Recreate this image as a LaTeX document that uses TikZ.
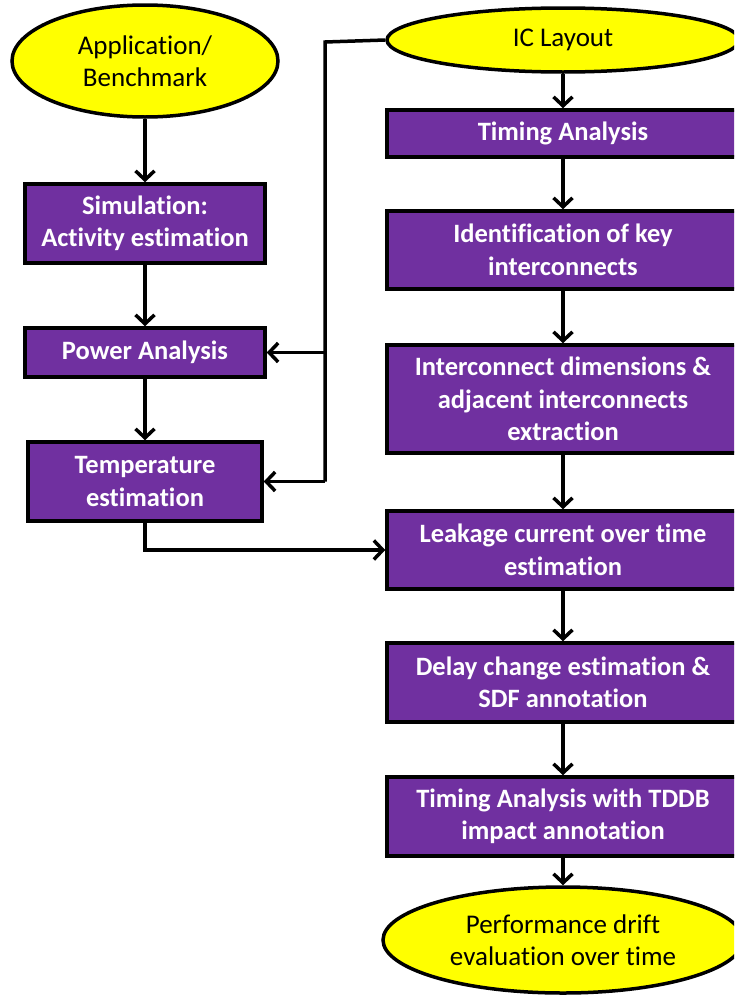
\documentclass[tikz,border=0pt]{standalone}
\usepackage{fontspec}
\setmainfont{Carlito}[Ligatures={NoCommon}]
\usetikzlibrary{arrows.meta,shapes.geometric}
\definecolor{boxpurple}{RGB}{112,48,160}
\definecolor{termyellow}{RGB}{255,255,0}
\tikzset{
  stepbox/.style={draw=black, line width=3.5pt, fill=boxpurple, text=white,
    font=\bfseries\fontsize{26.5}{32.5}\selectfont, align=center, inner sep=0pt,
    rectangle},
  terminal/.style={draw=black, line width=3.5pt, fill=termyellow, text=black,
    font=\fontsize{27}{32.5}\selectfont, align=center, inner sep=0pt,
    ellipse},
  link/.style={draw=black, line width=3.5pt, -{Straight Barb[length=9pt,width=19pt]}},
  wire/.style={draw=black, line width=3.5pt},
}
\begin{document}
\begin{tikzpicture}[x=1pt, y=-1pt]
\useasboundingbox (0,0) rectangle (734,996);
\clip (0,0) rectangle (734,996);

% left column
\node[terminal, minimum width=266pt, minimum height=112pt] (app) at (145,61) {Application/\\Benchmark};
\node[stepbox, minimum width=240pt, minimum height=79pt] (sim) at (145,223.5) {Simulation:\\Activity estimation};
\node[stepbox, minimum width=240pt, minimum height=49pt] (power) at (145,352.5) {Power Analysis};
\node[stepbox, minimum width=234pt, minimum height=79pt] (temp) at (145,481.5) {Temperature\\estimation};

% right column
\node[terminal, minimum width=352pt, minimum height=64pt] (ic) at (563,40) {IC Layout};
\node[stepbox, minimum width=352pt, minimum height=47pt] (timing) at (563,133.5) {Timing Analysis};
\node[stepbox, minimum width=352pt, minimum height=78pt] (ident) at (563,250) {Identification of key\\interconnects};
\node[stepbox, minimum width=352pt, minimum height=108pt] (dims) at (563,399) {Interconnect dimensions \&\\adjacent interconnects\\extraction};
\node[stepbox, minimum width=352pt, minimum height=78pt] (leak) at (563,550) {Leakage current over time\\estimation};
\node[stepbox, minimum width=352pt, minimum height=79pt] (delay) at (563,682.5) {Delay change estimation \&\\SDF annotation};
\node[stepbox, minimum width=352pt, minimum height=79pt] (tddb) at (563,816.5) {Timing Analysis with TDDB\\impact annotation};
\node[terminal, minimum width=360pt, minimum height=106pt] (perf) at (563,940) {Performance drift\\evaluation over time};

% routing points of the layout feed
\coordinate (feedtop) at (325,42);
\coordinate (feedpow) at (325,352.5);
\coordinate (feedtemp) at (325,481.5);
\coordinate (tempdown) at (145,550);

% left flow
\draw[link] (app) -- (sim);
\draw[link] (sim) -- (power);
\draw[link] (power) -- (temp);

% layout feeds power and temperature
\draw[wire, line join=miter] (ic.west) -- (feedtop) -- (feedtemp);
\draw[link] (feedpow) -- (power.east);
\draw[link, line join=miter] (feedtemp) -- (temp.east);

% temperature into leakage
\draw[link] (temp.south) -- (tempdown) -- (leak.west);

% right flow
\draw[link] (ic) -- (timing);
\draw[link] (timing) -- (ident);
\draw[link] (ident) -- (dims);
\draw[link] (dims) -- (leak);
\draw[link] (leak) -- (delay);
\draw[link] (delay) -- (tddb);
\draw[link] (tddb) -- (perf);
\end{tikzpicture}
\end{document}
